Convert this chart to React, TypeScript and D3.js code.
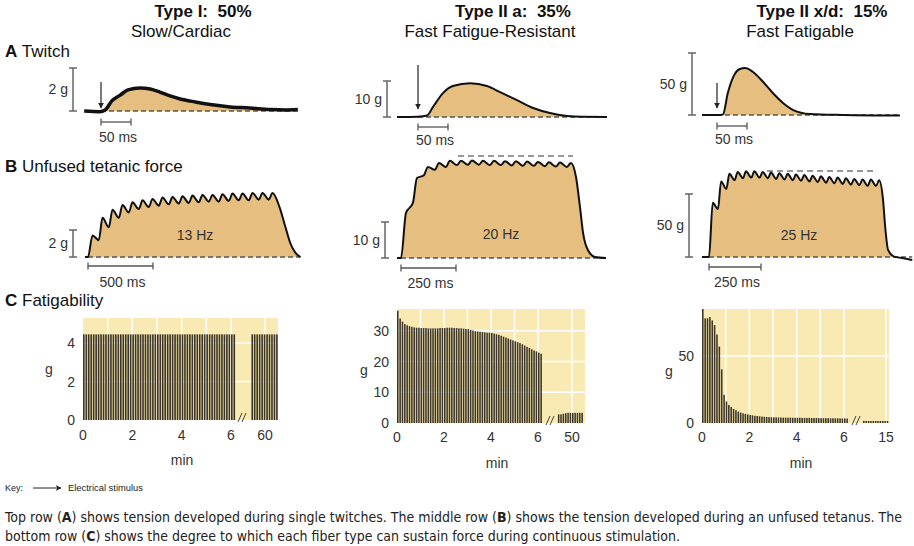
import React from "react";
import * as d3 from "d3";

type Pt = [number, number];

// ---- A: single twitch traces, [ms after stimulus, grams]
const twitchI: Pt[] = [[-28, 0], [-2, -0.03], [7, 0.05], [18, 0.47], [32, 0.74], [45, 0.98], [65, 1.07], [82, 1.02], [98, 0.88], [115, 0.7], [132, 0.56], [157, 0.42], [182, 0.3], [215, 0.19], [248, 0.14], [282, 0.07], [307, 0.05], [328, 0.07]];
const twitchIIa: Pt[] = [[-35, 0], [0, 0.1], [15, 0.4], [25, 2.8], [42, 6.7], [58, 8.6], [87, 9.4], [115, 8.6], [137, 6.9], [165, 4.7], [192, 2.5], [220, 1.1], [248, 0.3], [275, 0.05], [315, 0]];
const twitchIIx: Pt[] = [[-25, 0], [5, 0], [10, 0.5], [18, 17.7], [27, 30.6], [38, 37.1], [47, 37.9], [60, 34.7], [77, 26.6], [93, 17.7], [110, 9.7], [127, 4.0], [155, 0.8], [210, 0], [305, -0.5]];

// ---- B: unfused tetanus, ripple peaks / troughs (g) and decay after last peak [ms, g]
const tetIHz = 13;
const tetIPeaks = [1.6, 2.9, 3.5, 3.85, 4.05, 4.2, 4.3, 4.4, 4.45, 4.5, 4.55, 4.6, 4.6, 4.65, 4.7, 4.7, 4.75, 4.75, 4.75];
const tetITroughs = [1.25, 2.2, 2.9, 3.3, 3.55, 3.7, 3.8, 3.9, 3.95, 4.0, 4.05, 4.1, 4.1, 4.15, 4.2, 4.2, 4.25, 4.25];
const tetIDecay: Pt[] = [[54, 3.7], [100, 2.2], [138, 1.0], [177, 0.3], [215, 0]];

const tetIIaHz = 20;
const tetIIaPeaks = [12.5, 22.2, 25.3, 26.4, 27.0, 27.0, 27.1, 27.0, 27.0, 26.9, 26.9, 26.8, 26.7, 26.6, 26.5, 26.4];
const tetIIaTroughs = [15.3, 23.0, 24.5, 25.3, 25.8, 25.9, 25.9, 25.8, 25.8, 25.7, 25.6, 25.6, 25.5, 25.4, 25.3];
const tetIIaDecay: Pt[] = [[23, 22.5], [41, 14.2], [55, 7], [77, 2.2], [109, 0.3], [159, 0]];
const tetIIaMax = 28.3;

const tetIIxHz = 25;
const tetIIxPeaks = [43, 60, 66, 67.5, 68, 68, 67.5, 67, 66.5, 66, 65.5, 65, 64.5, 64, 63.5, 63, 62.5, 62, 61.5, 61.5, 61];
const tetIIxTroughs = [38, 54, 61, 62.5, 63, 63, 62.5, 62, 61.5, 61, 60.5, 60, 59.5, 59, 58.5, 58, 57.5, 57, 56.5, 56.5];
const tetIIxDecay: Pt[] = [[19, 45], [29, 24], [43, 5.6], [72, 0.3], [110, -0.8], [159, -2.4]];
const tetIIxMax = 68.3;

// ---- C: fatigability, one bar every 0.1 min (g)
const fatigueI = [
  4.45, 4.45, 4.45, 4.45, 4.45, 4.45, 4.45, 4.45, 4.45, 4.45,
  4.45, 4.45, 4.45, 4.45, 4.45, 4.45, 4.45, 4.45, 4.45, 4.45,
  4.45, 4.45, 4.45, 4.45, 4.45, 4.45, 4.45, 4.45, 4.45, 4.45,
  4.45, 4.45, 4.45, 4.45, 4.45, 4.45, 4.45, 4.45, 4.45, 4.45,
  4.45, 4.45, 4.45, 4.45, 4.45, 4.45, 4.45, 4.45, 4.45, 4.45,
  4.45, 4.45, 4.45, 4.45, 4.45, 4.45, 4.45, 4.45, 4.45, 4.45,
  4.45, 4.45,
];
const fatigueILate = [4.45, 4.45, 4.45, 4.45, 4.45, 4.45, 4.45, 4.45, 4.45, 4.45, 4.45];
const fatigueIIa = [
  36.5, 34.0, 33.0, 32.2, 31.8, 31.5, 31.3, 31.1, 31.0, 31.0,
  30.9, 30.9, 30.9, 30.8, 30.8, 30.8, 30.8, 30.8, 30.9, 30.9,
  30.9, 31.0, 31.0, 31.0, 30.9, 30.9, 30.8, 30.8, 30.7, 30.6,
  30.5, 30.3, 30.1, 29.9, 29.8, 29.7, 29.6, 29.5, 29.4, 29.4,
  29.3, 29.1, 28.9, 28.7, 28.4, 28.1, 27.8, 27.5, 27.2, 26.9,
  26.6, 26.3, 26.0, 25.6, 25.2, 24.8, 24.4, 24.0, 23.6, 23.3,
  22.9, 22.5,
];
const fatigueIIaLate = [2.8, 2.8, 3.0, 3.2, 3.3, 3.3, 3.3, 3.3, 3.3, 3.3, 3.3];
const fatigueIIx = [
  85, 78, 78, 79, 76.5, 73, 66, 57, 40, 21,
  16, 13.5, 12, 10.5, 9.5, 8.5, 7.8, 7.2, 6.8, 6.4,
  6.0, 5.7, 5.4, 5.2, 5.0, 4.8, 4.6, 4.5, 4.4, 4.3,
  4.2, 4.2, 4.1, 4.1, 4.0, 4.0, 4.0, 4.0, 3.9, 3.9,
  3.9, 3.9, 3.8, 3.8, 3.8, 3.8, 3.7, 3.7, 3.7, 3.7,
  3.6, 3.6, 3.6, 3.6, 3.5, 3.5, 3.5, 3.5, 3.4, 3.4,
  3.4, 3.3,
];
const fatigueIIxLate = [1.6, 1.5, 1.5, 1.5, 1.5, 1.5, 1.5, 1.5, 1.5, 1.5, 1.5];

const FONT = "'Liberation Sans', Arial, Helvetica, sans-serif";
const TAN = "#e6bf80";
const BG = "#f8eab2";
const BAR = "#3d3628";
const INK = "#333";

function tetanusPoints(peaks: number[], troughs: number[], hz: number, decay: Pt[], startMs: number): Pt[] {
  const T = 1000 / hz;
  const pts: Pt[] = [[startMs, 0], [0, 0]];
  peaks.forEach((p, i) => {
    pts.push([i * T + 0.45 * T, p]);
    if (i < troughs.length) pts.push([(i + 1) * T + 0.08 * T, troughs[i]]);
  });
  const last = (peaks.length - 1) * T + 0.45 * T;
  decay.forEach(([dt, g]) => pts.push([last + dt, g]));
  return pts;
}

interface TraceProps {
  data: Pt[];
  x0: number; // px of t=0
  msBar: number; // time scale bar (ms)
  msPx: number;
  base: number; // px of 0 g
  unit: number; // force scale bar (g)
  unitPx: number;
  scaleX: number; // px of vertical scale bar
  timeBarY: number;
  timeLabelY: number;
  stroke: number;
  arrow?: [number, number];
  hz?: { label: string; x: number; y: number };
  maxLine?: { g: number; from: number; to: number };
}

const Trace: React.FC<TraceProps> = (p) => {
  const x = d3.scaleLinear().domain([0, p.msBar]).range([p.x0, p.x0 + p.msPx]);
  const y = d3.scaleLinear().domain([0, p.unit]).range([p.base, p.base - p.unitPx]);
  const line = d3.line<Pt>().x((d) => x(d[0])).y((d) => y(d[1])).curve(d3.curveMonotoneX);
  const area = d3
    .area<Pt>()
    .x((d) => x(d[0]))
    .y0(y(0))
    .y1((d) => y(Math.max(0, d[1])))
    .curve(d3.curveMonotoneX);
  const tEnd = p.data[p.data.length - 1][0];
  const yTop = y(p.unit);
  const yMid = (y(0) + yTop) / 2;
  return (
    <g>
      <path d={area(p.data) || ""} fill={TAN} />
      <line x1={x(0)} x2={x(tEnd)} y1={y(0)} y2={y(0)} stroke="#555" strokeWidth={1.5} strokeDasharray="5,3" />
      {p.maxLine && (
        <line x1={x(p.maxLine.from)} x2={x(p.maxLine.to)} y1={y(p.maxLine.g)} y2={y(p.maxLine.g)} stroke="#777" strokeWidth={1.5} strokeDasharray="6,4" />
      )}
      <path d={line(p.data) || ""} fill="none" stroke="#111" strokeWidth={p.stroke} strokeLinejoin="round" />
      {/* force scale bar */}
      <g stroke="#666" strokeWidth={1.5}>
        <line x1={p.scaleX} x2={p.scaleX} y1={y(0)} y2={yTop} />
        <line x1={p.scaleX - 4} x2={p.scaleX + 4} y1={y(0)} y2={y(0)} />
        <line x1={p.scaleX - 4} x2={p.scaleX + 4} y1={yTop} y2={yTop} />
      </g>
      <text x={p.scaleX - 5} y={yMid + 4.5} textAnchor="end" fontSize={14} fill={INK} fontFamily={FONT}>
        {`${p.unit} g`}
      </text>
      {/* time scale bar */}
      <g stroke="#555" strokeWidth={1.3}>
        <line x1={x(0)} x2={x(p.msBar)} y1={p.timeBarY} y2={p.timeBarY} />
        <line x1={x(0)} x2={x(0)} y1={p.timeBarY - 3.5} y2={p.timeBarY + 3.5} />
        <line x1={x(p.msBar)} x2={x(p.msBar)} y1={p.timeBarY - 3.5} y2={p.timeBarY + 3.5} />
      </g>
      <text x={(x(0) + x(p.msBar)) / 2 + 2} y={p.timeLabelY} textAnchor="middle" fontSize={14} fill={INK} fontFamily={FONT}>
        {`${p.msBar} ms`}
      </text>
      {p.arrow && (
        <line x1={x(0)} x2={x(0)} y1={p.arrow[0]} y2={p.arrow[1]} stroke="#222" strokeWidth={1.2} markerEnd="url(#ah)" />
      )}
      {p.hz && (
        <text x={p.hz.x} y={p.hz.y} textAnchor="middle" fontSize={14} fill={INK} fontFamily={FONT}>
          {p.hz.label}
        </text>
      )}
    </g>
  );
};

interface FatigueProps {
  early: number[];
  late: number[];
  lateStart: number; // min
  lateLabel: number;
  left: number;
  x6: number;
  xLate: number;
  right: number;
  top: number;
  bottom: number;
  yMax: number;
  yTicks: number[];
  xLabelY: number;
  minX: number;
  minY: number;
  gX: number;
  gY: number;
  breakX: number;
}

const STEP = 0.1;

const Fatigue: React.FC<FatigueProps> = (p) => {
  const x1 = d3.scaleLinear().domain([0, 6]).range([p.left, p.x6]);
  const perMin = (p.x6 - p.left) / 6;
  const x2 = d3.scaleLinear().domain([p.lateLabel, p.lateLabel + 1]).range([p.xLate, p.xLate + perMin]);
  const y = d3.scaleLinear().domain([0, p.yMax]).range([p.bottom, p.top]);
  const bw = (x1(STEP) - x1(0)) * 0.66;
  const minutes = d3.range(1, 7);
  return (
    <g fontFamily={FONT}>
      <rect x={p.left} y={y(p.yMax)} width={p.right - p.left} height={y(0) - y(p.yMax)} fill={BG} />
      <g stroke="#fff" strokeWidth={1.5}>
        {minutes.map((m) => (
          <line key={m} x1={x1(m)} x2={x1(m)} y1={y(0)} y2={y(p.yMax)} />
        ))}
        <line x1={x2(p.lateLabel)} x2={x2(p.lateLabel)} y1={y(0)} y2={y(p.yMax)} />
        {p.yTicks.filter((v) => v > 0).map((v) => (
          <line key={v} x1={p.left} x2={p.right} y1={y(v)} y2={y(v)} />
        ))}
      </g>
      {p.early.map((v, i) => (
        <rect key={"e" + i} x={x1(i * STEP)} y={y(v)} width={bw} height={y(0) - y(v)} fill={BAR} />
      ))}
      {p.late.map((v, i) => (
        <rect key={"l" + i} x={x2(p.lateStart + i * STEP)} y={y(v)} width={bw} height={y(0) - y(v)} fill={BAR} />
      ))}
      <g stroke="#444" strokeWidth={1}>
        <line x1={p.breakX - 5} x2={p.breakX - 1} y1={y(0) + 2} y2={y(0) - 7} />
        <line x1={p.breakX - 1} x2={p.breakX + 3} y1={y(0) + 2} y2={y(0) - 7} />
      </g>
      {p.yTicks.map((v) => (
        <text key={v} x={p.left - 8} y={y(v) + 5} textAnchor="end" fontSize={14} fill={INK}>
          {v}
        </text>
      ))}
      {[0, 2, 4, 6].map((m) => (
        <text key={m} x={x1(m)} y={p.xLabelY} textAnchor="middle" fontSize={14} fill={INK}>
          {m}
        </text>
      ))}
      <text x={x2(p.lateLabel)} y={p.xLabelY} textAnchor="middle" fontSize={14} fill={INK}>
        {p.lateLabel}
      </text>
      <text x={p.gX} y={p.gY} textAnchor="middle" fontSize={14} fill={INK}>g</text>
      <text x={p.minX} y={p.minY} textAnchor="middle" fontSize={14} fill={INK}>min</text>
    </g>
  );
};

const App: React.FC = () => {
  const tetI = tetanusPoints(tetIPeaks, tetITroughs, tetIHz, tetIDecay, -23);
  const tetIIa = tetanusPoints(tetIIaPeaks, tetIIaTroughs, tetIIaHz, tetIIaDecay, -18);
  const tetIIx = tetanusPoints(tetIIxPeaks, tetIIxTroughs, tetIIxHz, tetIIxDecay, -34);
  const title = { fontFamily: FONT, fontSize: 17, fill: "#111" };
  return (
    <svg width={914} height={546} style={{ position: "absolute", left: 0, top: 0, background: "#fff" }}>
      <defs>
        <marker id="ah" viewBox="0 0 10 10" refX="9" refY="5" markerWidth="6" markerHeight="6" orient="auto" markerUnits="userSpaceOnUse">
          <path d="M0,0 L10,5 L0,10 z" fill="#222" />
        </marker>
        <marker id="ak" viewBox="0 0 10 10" refX="9" refY="5" markerWidth="7" markerHeight="6" orient="auto" markerUnits="userSpaceOnUse">
          <path d="M0,0 L10,5 L0,10 L3,5 z" fill="#222" />
        </marker>
      </defs>

      {/* column headings */}
      <g {...title} textAnchor="middle">
        <text x={203} y={17} fontWeight="bold">{"Type I:\u00a0 50%"}</text>
        <text x={181} y={37}>Slow/Cardiac</text>
        <text x={513} y={17} fontWeight="bold">{"Type II a:\u00a0 35%"}</text>
        <text x={490} y={37}>Fast Fatigue-Resistant</text>
        <text x={822} y={17} fontWeight="bold">{"Type II x/d:\u00a0 15%"}</text>
        <text x={800} y={37}>Fast Fatigable</text>
      </g>
      <g {...title}>
        <text x={5} y={57}><tspan fontWeight="bold">A</tspan> Twitch</text>
        <text x={5} y={172}><tspan fontWeight="bold">B</tspan> Unfused tetanic force</text>
        <text x={5} y={306}><tspan fontWeight="bold">C</tspan> Fatigability</text>
      </g>

      {/* A: twitch */}
      <Trace data={twitchI} x0={101} msBar={50} msPx={30} base={111} unit={2} unitPx={43} scaleX={73} timeBarY={122} timeLabelY={142} stroke={3.5} arrow={[82, 108]} />
      <Trace data={twitchIIa} x0={418} msBar={50} msPx={30} base={117} unit={10} unitPx={36} scaleX={387} timeBarY={127} timeLabelY={145} stroke={2} arrow={[65, 109]} />
      <Trace data={twitchIIx} x0={717} msBar={50} msPx={30} base={115} unit={50} unitPx={62} scaleX={692} timeBarY={126} timeLabelY={144} stroke={2} arrow={[83, 108]} />

      {/* B: unfused tetanus */}
      <Trace data={tetI} x0={88} msBar={500} msPx={65} base={257} unit={2} unitPx={27} scaleX={73} timeBarY={266} timeLabelY={287} stroke={2} hz={{ label: "13 Hz", x: 195, y: 240 }} />
      <Trace data={tetIIa} x0={401} msBar={250} msPx={55} base={258} unit={10} unitPx={36} scaleX={385} timeBarY={268} timeLabelY={288} stroke={2} hz={{ label: "20 Hz", x: 501, y: 239 }} maxLine={{ g: tetIIaMax, from: 259, to: 782 }} />
      <Trace data={tetIIx} x0={709} msBar={250} msPx={52} base={257} unit={50} unitPx={63} scaleX={689} timeBarY={267} timeLabelY={287} stroke={2} hz={{ label: "25 Hz", x: 799, y: 240 }} maxLine={{ g: tetIIxMax, from: 279, to: 803 }} />

      {/* C: fatigability */}
      <Fatigue early={fatigueI} late={fatigueILate} lateStart={59.45} lateLabel={60} left={83} x6={231} xLate={265} right={278} top={318} bottom={420} yMax={5.3} yTicks={[0, 2, 4]} xLabelY={440} minX={182} minY={465} gX={49} gY={374} breakX={243} />
      <Fatigue early={fatigueIIa} late={fatigueIIaLate} lateStart={49.4} lateLabel={50} left={397} x6={538} xLate={572} right={585} top={309} bottom={423} yMax={37.1} yTicks={[0, 10, 20, 30]} xLabelY={442} minX={497} minY={468} gX={364} gY={375} breakX={551} />
      <Fatigue early={fatigueIIx} late={fatigueIIxLate} lateStart={14.03} lateLabel={15} left={702} x6={844} xLate={886} right={889} top={309} bottom={423} yMax={85} yTicks={[0, 50]} xLabelY={442} minX={801} minY={468} gX={669} gY={376} breakX={857} />

      {/* key and caption */}
      <g fontFamily={FONT} fill="#222">
        <text x={5} y={491} fontSize={9}>Key:</text>
        <line x1={33} x2={61} y1={488} y2={488} stroke="#222" strokeWidth={1} markerEnd="url(#ak)" />
        <text x={68} y={491} fontSize={9} textLength={75} lengthAdjust="spacingAndGlyphs">Electrical stimulus</text>
      </g>
      <g fontFamily="'Liberation Sans Narrow', 'DejaVu Sans Condensed', Arial, sans-serif" fontSize={14} fill="#222">
        <text x={5} y={522} textLength={897} lengthAdjust="spacingAndGlyphs">
          Top row (<tspan fontWeight="bold">A</tspan>) shows tension developed during single twitches. The middle row (<tspan fontWeight="bold">B</tspan>) shows the tension developed during an unfused tetanus. The
        </text>
        <text x={5} y={541} textLength={675} lengthAdjust="spacingAndGlyphs">
          bottom row (<tspan fontWeight="bold">C</tspan>) shows the degree to which each fiber type can sustain force during continuous stimulation.
        </text>
      </g>
    </svg>
  );
};

export default App;
